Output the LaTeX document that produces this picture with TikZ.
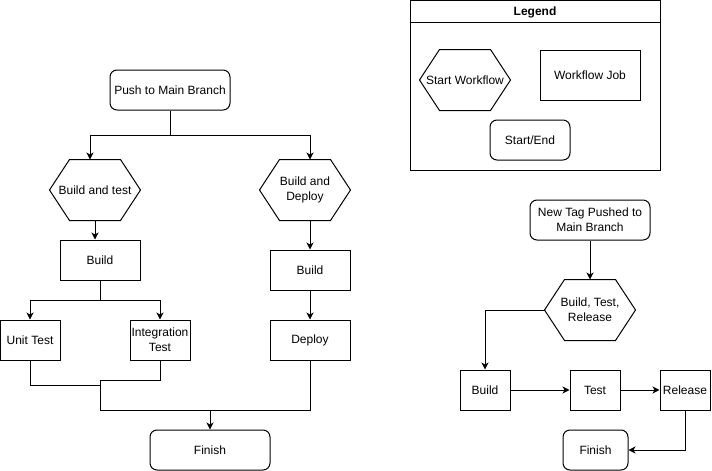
\documentclass[tikz,border=0pt]{standalone}
\usepackage{fontspec}
\setmainfont{Liberation Sans}
\usetikzlibrary{positioning, arrows.meta, calc}

\tikzset{
	jobbox/.style={draw, rectangle, inner sep=0pt, text centered, align=center},
	endbox/.style={draw, rectangle, rounded corners=7pt, inner sep=0pt, text centered, align=center},
	hexbox/.style={rectangle, inner sep=0pt, minimum width=90pt, minimum height=60pt, text centered, align=center,
		append after command={\pgfextra{\draw (\tikzlastnode.west) -- ([xshift=20pt]\tikzlastnode.north west)
				-- ([xshift=-20pt]\tikzlastnode.north east) -- (\tikzlastnode.east)
				-- ([xshift=-20pt]\tikzlastnode.south east) -- ([xshift=20pt]\tikzlastnode.south west) -- cycle;}}},
	flow/.style={-{Stealth[length=7pt, width=7pt, inset=2pt]}}
}

\begin{document}
\begin{tikzpicture}[x=1pt, y=-1pt, line width=1pt, font=\fontsize{12}{15}\selectfont]
		
		\useasboundingbox (0,0) rectangle (712,471);
		
		%Nodes of the main branch workflows
		\node (push) at (170,90) [endbox, minimum width=120pt, minimum height=40pt]{Push to Main Branch};
		
		\node (buildTest) at (95,190) [hexbox]{Build and test};
		
		\node (buildDeploy) at (305,190) [hexbox]{Build and\\Deploy};
		
		\node (firstBuild) at (100,260) [jobbox, minimum width=80pt, minimum height=40pt]{Build};
		
		\node (secondBuild) at (310,270) [jobbox, minimum width=80pt, minimum height=40pt]{Build};
		
		\node (unitTest) at (30,340) [jobbox, minimum width=60pt, minimum height=40pt]{Unit Test};
		
		\node (integrationTest) at (160,340) [jobbox, minimum width=60pt, minimum height=40pt]{Integration\\Test};
		
		\node (deploy) at (310,340) [jobbox, minimum width=80pt, minimum height=40pt]{Deploy};
		
		\node (firstFinish) at (210,450) [endbox, minimum width=120pt, minimum height=40pt]{Finish};
		
		%Links of the main branch workflows
		\draw[flow] (push.south) -- ++(0,25) coordinate (split) -| ([xshift=-5pt]buildTest.north);
		
		\draw[flow] (split) -| ([xshift=5pt]buildDeploy.north);
		
		\draw[flow] (buildTest.south) -- (buildTest.south |- firstBuild.north);
		
		\draw[flow] ([xshift=5pt]buildDeploy.south) -- (secondBuild.north);
		
		\draw[flow] (firstBuild.south) -- ++(0,20) coordinate (fork) -| (unitTest.north);
		
		\draw[flow] (fork) -| (integrationTest.north);
		
		\draw[flow] (secondBuild.south) -- (deploy.north);
		
		\coordinate (merge) at (100,410);
		
		\draw (unitTest.south) -- ++(0,25) -| (merge);
		
		\draw (integrationTest.south) -- ++(0,20) -| (merge);
		
		\draw (deploy.south) |- (merge);
		
		\draw[flow] (firstFinish.north |- merge) -- (firstFinish.north);
		
		
		%Nodes of the legend
		\node (legend) at (535,85) [jobbox, minimum width=250pt, minimum height=170pt]{};
		
		\draw (legend.north west) ++(0,23) -- ($(legend.north east)+(0,23)$);
		
		\node (legendTitle) at (535,12) {\bfseries Legend};
		
		\node (legendHex) at (465,80) [hexbox]{Start Workflow};
		
		\node (legendJob) at (590,75) [jobbox, minimum width=100pt, minimum height=50pt]{Workflow Job};
		
		\node (legendEnd) at (530,140) [endbox, minimum width=80pt, minimum height=40pt]{Start/End};
		
		
		%Nodes of the tag workflow
		\node (newTag) at (590,220) [endbox, minimum width=120pt, minimum height=40pt]{New Tag Pushed to\\Main Branch};
		
		\node (buildTestRelease) at (590,310) [hexbox]{Build, Test,\\Release};
		
		\node (thirdBuild) at (485,390) [jobbox, minimum width=50pt, minimum height=40pt]{Build};
		
		\node (test) at (595,390) [jobbox, minimum width=50pt, minimum height=40pt]{Test};
		
		\node (release) at (685,390) [jobbox, minimum width=50pt, minimum height=40pt]{Release};
		
		\node (secondFinish) at (595.5,450) [endbox, minimum width=65pt, minimum height=40pt]{Finish};
		
		%Links of the tag workflow
		\draw[flow] (newTag.south) -- (buildTestRelease.north);
		
		\draw[flow] (buildTestRelease.west) -| (thirdBuild.north);
		
		\draw[flow] (thirdBuild.east) -- (test.west);
		
		\draw[flow] (test.east) -- (release.west);
		
		\draw[flow] (release.south) |- (secondFinish.east);
		
\end{tikzpicture}
\end{document}
